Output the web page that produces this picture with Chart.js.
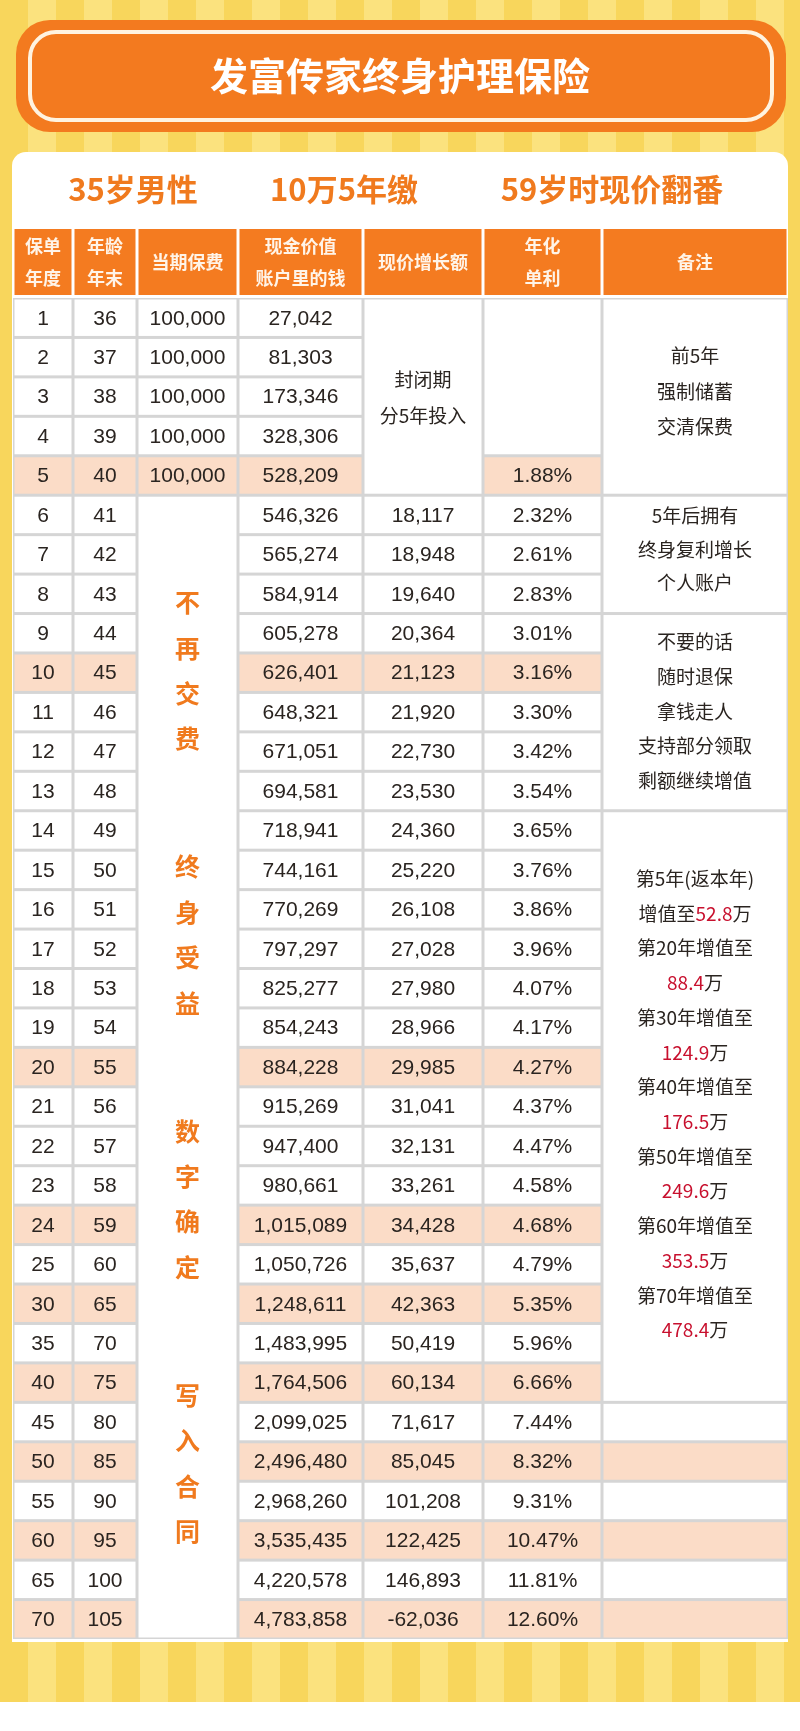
<!DOCTYPE html>
<html><head><meta charset="utf-8">
<script src="https://cdn.jsdelivr.net/npm/chart.js@4"></script>
<style>
html,body{margin:0;padding:0;width:800px;height:1731px;overflow:hidden;
background:linear-gradient(#0000 1702px,#fff 1702px),repeating-linear-gradient(90deg,#f8d65c 0 28px,#fbe27e 28px 56px);}
canvas{display:block}
</style></head><body>
<canvas id="c" width="800" height="1731"></canvas>
<script>
const years=[1,2,3,4,5,6,7,8,9,10,11,12,13,14,15,16,17,18,19,20,21,22,23,24,25,30,35,40,45,50,55,60,65,70];
const ages=[36,37,38,39,40,41,42,43,44,45,46,47,48,49,50,51,52,53,54,55,56,57,58,59,60,65,70,75,80,85,90,95,100,105];
const premiums=[100000,100000,100000,100000,100000];
const cashValues=[27042,81303,173346,328306,528209,546326,565274,584914,605278,626401,648321,671051,694581,718941,744161,770269,797297,825277,854243,884228,915269,947400,980661,1015089,1050726,1248611,1483995,1764506,2099025,2496480,2968260,3535435,4220578,4783858];
const growth=[18117,18948,19640,20364,21123,21920,22730,23530,24360,25220,26108,27028,27980,28966,29985,31041,32131,33261,34428,35637,42363,50419,60134,71617,85045,101208,122425,146893,-62036];
const rates=["1.88%","2.32%","2.61%","2.83%","3.01%","3.16%","3.30%","3.42%","3.54%","3.65%","3.76%","3.86%","3.96%","4.07%","4.17%","4.27%","4.37%","4.47%","4.58%","4.68%","4.79%","5.35%","5.96%","6.66%","7.44%","8.32%","9.31%","10.47%","11.81%","12.60%"];
const highlightYears=[5,10,20,24,30,40,50,60,70];
const headers=["保单\n年度","年龄\n年末","当期保费","现金价值\n账户里的钱","现价增长额","年化\n单利","备注"];
const title="发富传家终身护理保险";
const subtitles=["35岁男性","10万5年缴","59岁时现价翻番"];
const closedText=["封闭期","分5年投入"];
const sideWords=["不再交费","终身受益","数字确定","写入合同"];
const note1=["前5年","强制储蓄","交清保费"];
const note2=["5年后拥有","终身复利增长","个人账户"];
const note3=["不要的话","随时退保","拿钱走人","支持部分领取","剩额继续增值"];
const note4=[[["第5年(返本年)",0]],[["增值至",0],["52.8",1],["万",0]],[["第20年增值至",0]],[["88.4",1],["万",0]],[["第30年增值至",0]],[["124.9",1],["万",0]],[["第40年增值至",0]],[["176.5",1],["万",0]],[["第50年增值至",0]],[["249.6",1],["万",0]],[["第60年增值至",0]],[["353.5",1],["万",0]],[["第70年增值至",0]],[["478.4",1],["万",0]]];

// layout (not data)
const colEdges=[13,73,137,238,363,483,602,788];
const NUM='21px "Liberation Sans", Arial, sans-serif';
const CJK='"Noto Sans CJK SC", sans-serif';
const fmt=v=>(v<0?"-":"")+Math.abs(v).toLocaleString('en-US');

const tablePlugin={id:'table',
beforeDraw(chart){
  const ctx=chart.ctx, xs=chart.scales.x, ys=chart.scales.y;
  const X=i=>xs.getPixelForValue(colEdges[i]);
  const Y=r=>ys.getPixelForValue(r);
  ctx.save();
  // banner
  const rr=(x,y,w,h,r)=>{ctx.beginPath();ctx.roundRect(x,y,w,h,r);};
  ctx.fillStyle='#f37a1f';rr(16,20,770,112,34);ctx.fill();
  ctx.strokeStyle='#fff3e0';ctx.lineWidth=4;rr(30,32,742,88,26);ctx.stroke();
  ctx.fillStyle='#fff';ctx.font='bold 38px '+CJK;ctx.textAlign='center';ctx.textBaseline='middle';
  ctx.fillText(title,400,76);
  // card
  ctx.fillStyle='#fff';rr(12,152,776,1490,[14,14,0,0]);ctx.fill();
  ctx.fillStyle='#f07a1e';ctx.font='bold 31px '+CJK;
  [133,344,612].forEach((cx,i)=>ctx.fillText(subtitles[i],cx,189));
  // header
  ctx.fillStyle='#fff';ctx.fillRect(X(0),229,X(7)-X(0),66);
  for(let c=0;c<7;c++){
    ctx.fillStyle='#f47b20';ctx.fillRect(X(c)+1.5,229,X(c+1)-X(c)-3,66);
    ctx.fillStyle='#fff4e8';ctx.font='bold 18px '+CJK;
    const ls=headers[c].split("\n"),cx=(X(c)+X(c+1))/2;
    ls.forEach((t,k)=>ctx.fillText(t,cx,262+(k-(ls.length-1)/2)*32));
  }
  // grid background
  ctx.fillStyle='#d5d5d5';ctx.fillRect(X(0),Y(0),X(7)-X(0),Y(34)-Y(0));
  const hl=r=>highlightYears.includes(years[r]);
  const cell=(c,r0,r1,shade)=>{ctx.fillStyle=shade?'#fbdcc7':'#fff';
    ctx.fillRect(X(c)+1.5,Y(r0)+1.5,X(c+1)-X(c)-3,Y(r1)-Y(r0)-3);};
  const txt=(t,c,pos,font,color)=>{ctx.font=font;ctx.fillStyle=color;
    ctx.fillText(t,(X(c)+X(c+1))/2,Y(pos)+1);};
  for(let r=0;r<34;r++){
    [0,1,3].forEach(c=>cell(c,r,r+1,hl(r)));
    if(r<5)cell(2,r,r+1,hl(r));
    if(r>=5)cell(4,r,r+1,hl(r));
    if(r>=4)cell(5,r,r+1,hl(r));
    if(r>=28)cell(6,r,r+1,hl(r));
  }
  cell(2,5,34,false);cell(4,0,5,false);cell(5,0,4,false);
  cell(6,0,5,false);cell(6,5,8,false);cell(6,8,13,false);cell(6,13,28,false);
  const ink='#2a2420';
  for(let r=0;r<34;r++){
    txt(String(years[r]),0,r+0.5,NUM,ink);
    txt(String(ages[r]),1,r+0.5,NUM,ink);
    if(r<5)txt(fmt(premiums[r]),2,r+0.5,NUM,ink);
    txt(fmt(cashValues[r]),3,r+0.5,NUM,ink);
    if(r>=5)txt(fmt(growth[r-5]),4,r+0.5,NUM,ink);
    if(r>=4)txt(rates[r-4],5,r+0.5,NUM,ink);
  }
  const NF='19px '+CJK;
  closedText.forEach((t,k)=>txt(t,4,2.05+k*0.9,NF,ink));
  note1.forEach((t,k)=>txt(t,6,1.45+k*0.9,NF,ink));
  note2.forEach((t,k)=>txt(t,6,5.5+k*0.85,NF,ink));
  note3.forEach((t,k)=>txt(t,6,8.7+k*0.88,NF,ink));
  const cx6=(X(6)+X(7))/2;
  note4.forEach((segs,k)=>{
    ctx.font=NF;
    const w=segs.reduce((a,s)=>a+ctx.measureText(s[0]).width,0);
    let x=cx6-w/2;ctx.textAlign='left';
    segs.forEach(s=>{ctx.fillStyle=s[1]?'#c8102e':ink;ctx.fillText(s[0],x,Y(14.7+k*0.88)+1);x+=ctx.measureText(s[0]).width;});
    ctx.textAlign='center';
  });
  sideWords.forEach((w,g)=>[...w].forEach((ch,k)=>txt(ch,2,7.7+g*6.7+k*1.15,'bold 25px '+CJK,'#f07a1e')));
  ctx.restore();
}};

new Chart(document.getElementById('c'),{
  type:'scatter',
  data:{datasets:[{data:years.map((y,i)=>({x:colEdges[3]+1,y:i+0.5})),pointRadius:0}]},
  options:{responsive:false,animation:false,devicePixelRatio:1,
    layout:{padding:{left:13,right:12,top:298,bottom:92}},
    plugins:{legend:{display:false},tooltip:{enabled:false}},
    scales:{x:{type:'linear',min:13,max:788,display:false},
            y:{type:'linear',min:0,max:34,reverse:true,display:false}}},
  plugins:[tablePlugin]
});
</script></body></html>
